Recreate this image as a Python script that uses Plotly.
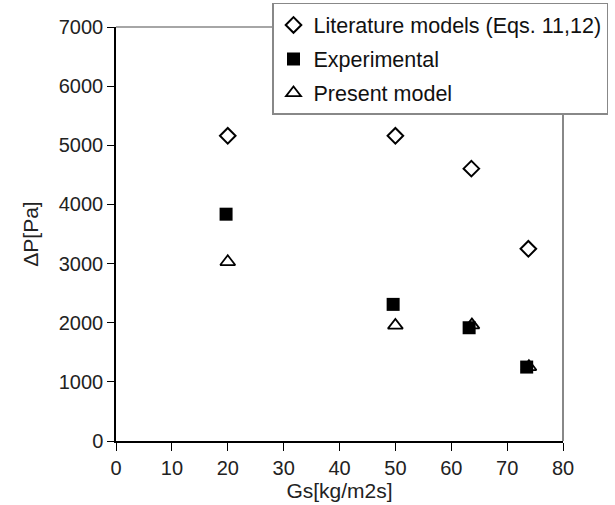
import plotly.graph_objects as go

gs_lit = [20.0, 50.0, 63.6, 73.8]
dp_lit = [5160, 5160, 4605, 3250]
gs_exp = [19.7, 49.6, 63.2, 73.5]
dp_exp = [3835, 2310, 1915, 1250]
gs_pm = [20.0, 50.0, 63.7, 73.9]
dp_pm = [3030, 1955, 1960, 1255]

names = ["Literature models (Eqs. 11,12)", "Experimental", "Present model"]

fig = go.Figure()
fig.add_trace(go.Scatter(x=gs_lit, y=dp_lit, mode="markers", name=names[0], legendgroup="a",
                         marker=dict(symbol="diamond-open", size=12, color="black", line=dict(width=2, color="black"))))
fig.add_trace(go.Scatter(x=gs_exp, y=dp_exp, mode="markers", name=names[1], legendgroup="b",
                         marker=dict(symbol="square", size=13, color="black", line=dict(width=0))))
fig.add_trace(go.Scatter(x=gs_pm, y=dp_pm, mode="markers", name=names[2], legendgroup="c",
                         marker=dict(symbol="triangle-up-open", size=13, color="black", line=dict(width=1.8, color="black"))))

font = "Liberation Sans, Arial, sans-serif"
fig.update_layout(
    width=615, height=505,
    margin=dict(l=116, r=52, t=27, b=64, autoexpand=False),
    paper_bgcolor="white", plot_bgcolor="white",
    font=dict(family=font, size=20, color="#222"),
    showlegend=True,
    legend=dict(x=0.349, y=1.058, xanchor="left", yanchor="top",
                bgcolor="white", bordercolor="#888", borderwidth=1.5,
                font=dict(size=21.5, color="#111"), tracegroupgap=3,
                traceorder="grouped"),
    xaxis=dict(range=[0, 80], tickvals=[0, 10, 20, 30, 40, 50, 60, 70, 80],
               showgrid=False, zeroline=False, showline=True, linecolor="black", linewidth=1.5,
               ticks="outside", ticklen=8, tickcolor="black", tickfont=dict(size=20),
               title=dict(text="Gs[kg/m2s]", font=dict(size=21), standoff=3)),
    yaxis=dict(range=[0, 7000], tickvals=[0, 1000, 2000, 3000, 4000, 5000, 6000, 7000],
               showgrid=False, zeroline=False, showline=True, linecolor="black", linewidth=1.5,
               ticks="outside", ticklen=7, tickcolor="black", tickfont=dict(size=20),
               title=dict(text="ΔP[Pa]", font=dict(size=21), standoff=14)),
)
fig.add_shape(type="line", xref="paper", yref="paper", x0=0, x1=1, y0=1, y1=1,
              line=dict(color="#888", width=1.5), layer="below")
fig.add_shape(type="line", xref="paper", yref="paper", x0=1, x1=1, y0=0, y1=1,
              line=dict(color="#888", width=2), layer="below")
fig.write_html("out.html")
